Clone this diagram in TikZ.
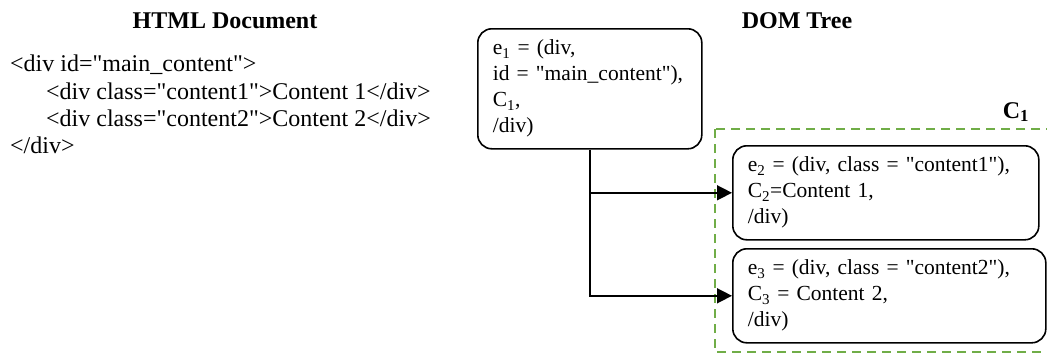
\documentclass[tikz,border=0pt]{standalone}
\usepackage{fontspec}
\setmainfont{Liberation Serif}[Ligatures=TeXOff]
\usepackage{tikz}
\usetikzlibrary{arrows.meta,positioning,calc}
\usepackage{xcolor}
\definecolor{groupgreen}{RGB}{112,173,71}

\tikzset{
    heading/.style={font=\fontsize{24}{28}\selectfont\bfseries},
    domnode/.style={draw,line width=1.6pt,rounded corners=14pt,align=left,anchor=north west,
        inner xsep=15pt,inner ysep=0pt,font=\fontsize{21.5}{26}\selectfont},
    link/.style={line width=1.5pt,-{Triangle[length=15pt,width=15pt]}},
    groupbox/.style={draw=groupgreen,line width=2.6pt,dash pattern=on 9pt off 6pt}
}

\begin{document}
\begin{tikzpicture}[x=1pt,y=-1pt]
        \useasboundingbox (0,0) rectangle (1047,354);

        % HTML side
        \node[heading] (htmltitle) at (225,21) {HTML Document};
        \node[anchor=north west,align=left,inner sep=0pt,font=\fontsize{24}{27.3}\selectfont] (htmlcode) at (10,55) {
            <div id="main\_content">\\
            \hspace*{36pt}<div class="content1">Content 1</div>\\
            \hspace*{36pt}<div class="content2">Content 2</div>\\
            </div>
        };

        % DOM side
        \node[heading] (domtitle) at (797,21) {DOM Tree};

        % group of children
        \draw[groupbox] (715,129) rectangle (1052,352);
        \node[heading] (grouplabel) at (1016,112) {C\textsubscript{1}};

        \node[domnode,text width=194pt,minimum height=120pt] (e1) at (477,28) {
            e\textsubscript{1} = (div,\\
            id = "main\_content"),\\
            C\textsubscript{1},\\
            /div)
        };
        \node[domnode,text width=276pt,minimum height=94pt] (e2) at (732,145) {
            e\textsubscript{2} = (div, class = "content1"),\\
            C\textsubscript{2}=Content 1,\\
            /div)
        };
        \node[domnode,text width=283pt,minimum height=94pt] (e3) at (732,248) {
            e\textsubscript{3} = (div, class = "content2"),\\
            C\textsubscript{3} = Content 2,\\
            /div)
        };

        % connectors
        \draw[link] (e1.south) |- (e3.west);
        \draw[link] (e1.south |- e2.west) -- (e2.west);
    \end{tikzpicture}
\end{document}
